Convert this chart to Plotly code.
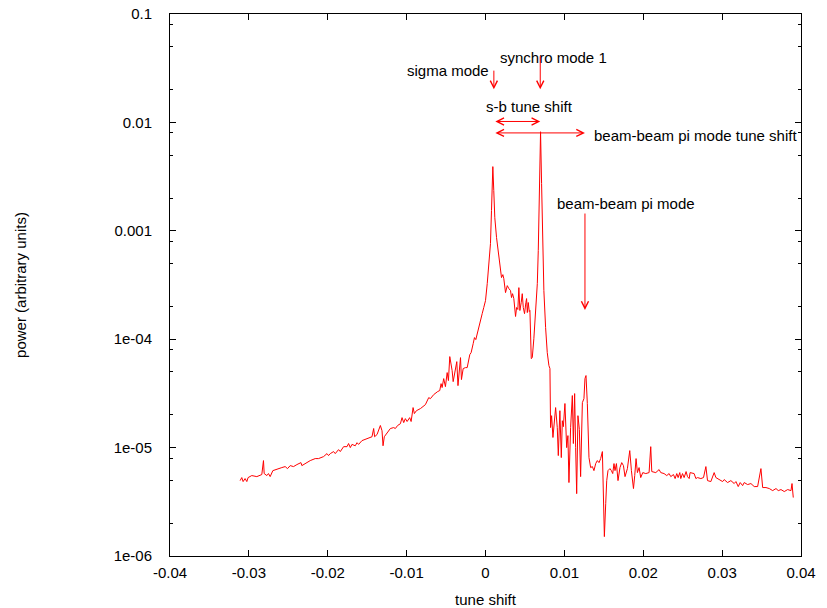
import numpy as np
import plotly.graph_objects as go

# ---- data (tune shift, power) ----
tune_shift = [
    -0.03111, -0.03090, -0.03073, -0.03048, -0.03026, -0.03010, -0.02963, -0.02899, -0.02836, -0.02815,
    -0.02806, -0.02772, -0.02752, -0.02730, -0.02696, -0.02645, -0.02582, -0.02540, -0.02510, -0.02476,
    -0.02434, -0.02391, -0.02340, -0.02328, -0.02286, -0.02222, -0.02159, -0.02117, -0.02053, -0.02010,
    -0.01990, -0.01968, -0.01926, -0.01905, -0.01863, -0.01841, -0.01799, -0.01756, -0.01736, -0.01714,
    -0.01693, -0.01651, -0.01629, -0.01609, -0.01566, -0.01524, -0.01482, -0.01439, -0.01418, -0.01406,
    -0.01375, -0.01333, -0.01312, -0.01299, -0.01283, -0.01248, -0.01206, -0.01164, -0.01143, -0.01114,
    -0.01079, -0.01058, -0.01037, -0.01016, -0.00994, -0.00961, -0.00943, -0.00918, -0.00902, -0.00876,
    -0.00825, -0.00762, -0.00720, -0.00698, -0.00657, -0.00606, -0.00580, -0.00563, -0.00550, -0.00530,
    -0.00508, -0.00486, -0.00470, -0.00453, -0.00423, -0.00410, -0.00381, -0.00364, -0.00349, -0.00317,
    -0.00305, -0.00283, -0.00254, -0.00232, -0.00199, -0.00182, -0.00156, -0.00140, -0.00123, -0.00098,
    -0.00072, -0.00042, -0.00022, 0.00000, 0.00022, 0.00042, 0.00063, 0.00076, 0.00093, 0.00105,
    0.00118, 0.00140, 0.00156, 0.00174, 0.00190, 0.00203, 0.00220, 0.00232, 0.00254, 0.00276,
    0.00296, 0.00317, 0.00330, 0.00343, 0.00359, 0.00381, 0.00394, 0.00410, 0.00423, 0.00436,
    0.00453, 0.00466, 0.00479, 0.00495, 0.00512, 0.00521, 0.00530, 0.00542, 0.00555, 0.00563,
    0.00580, 0.00593, 0.00613, 0.00635, 0.00657, 0.00669, 0.00686, 0.00698, 0.00711, 0.00724,
    0.00740, 0.00762, 0.00783, 0.00804, 0.00817, 0.00825, 0.00838, 0.00855, 0.00867, 0.00889,
    0.00910, 0.00923, 0.00943, 0.00961, 0.00974, 0.00987, 0.01007, 0.01029, 0.01045, 0.01058,
    0.01079, 0.01101, 0.01114, 0.01130, 0.01143, 0.01156, 0.01172, 0.01190, 0.01206, 0.01228,
    0.01248, 0.01261, 0.01274, 0.01291, 0.01312, 0.01333, 0.01355, 0.01375, 0.01397, 0.01418,
    0.01439, 0.01460, 0.01482, 0.01495, 0.01507, 0.01524, 0.01537, 0.01553, 0.01578, 0.01596,
    0.01613, 0.01629, 0.01642, 0.01660, 0.01680, 0.01705, 0.01727, 0.01749, 0.01769, 0.01799,
    0.01829, 0.01850, 0.01876, 0.01892, 0.01909, 0.01926, 0.01947, 0.01968, 0.01994, 0.02032,
    0.02074, 0.02095, 0.02108, 0.02159, 0.02201, 0.02222, 0.02264, 0.02298, 0.02328, 0.02349,
    0.02383, 0.02404, 0.02425, 0.02442, 0.02463, 0.02476, 0.02498, 0.02518, 0.02543, 0.02561,
    0.02582, 0.02594, 0.02645, 0.02667, 0.02688, 0.02730, 0.02764, 0.02794, 0.02815, 0.02857,
    0.02899, 0.02921, 0.02963, 0.03006, 0.03026, 0.03069, 0.03111, 0.03153, 0.03175, 0.03204,
    0.03229, 0.03260, 0.03280, 0.03323, 0.03365, 0.03407, 0.03450, 0.03492, 0.03514, 0.03556,
    0.03598, 0.03641, 0.03683, 0.03712, 0.03746, 0.03788, 0.03831, 0.03873, 0.03886, 0.03902,
]

power = [
    4.96e-6, 5.29e-6, 4.86e-6, 5.18e-6, 4.86e-6, 5.29e-6, 5.52e-6, 5.40e-6, 5.64e-6, 7.59e-6,
    5.76e-6, 5.52e-6, 5.76e-6, 5.40e-6, 6.13e-6, 6.27e-6, 6.54e-6, 6.68e-6, 6.40e-6, 6.82e-6,
    6.68e-6, 6.97e-6, 7.27e-6, 6.82e-6, 7.12e-6, 7.59e-6, 7.92e-6, 7.92e-6, 8.26e-6, 8.80e-6,
    8.44e-6, 8.80e-6, 9.19e-6, 8.80e-6, 9.58e-6, 9.19e-6, 1.02e-5, 1.02e-5, 1.09e-5, 1.00e-5,
    1.07e-5, 1.04e-5, 1.11e-5, 1.07e-5, 1.16e-5, 1.19e-5, 1.24e-5, 1.26e-5, 1.50e-5, 1.26e-5,
    1.32e-5, 1.60e-5, 1.43e-5, 1.04e-5, 1.26e-5, 1.38e-5, 1.50e-5, 1.53e-5, 1.50e-5, 1.60e-5,
    1.66e-5, 1.89e-5, 1.70e-5, 1.85e-5, 1.74e-5, 1.89e-5, 1.74e-5, 2.34e-5, 2.06e-5, 2.19e-5,
    2.29e-5, 2.49e-5, 2.89e-5, 2.83e-5, 3.08e-5, 3.29e-5, 3.36e-5, 3.89e-5, 3.58e-5, 4.33e-5,
    3.65e-5, 4.92e-5, 4.15e-5, 6.91e-5, 5.13e-5, 4.06e-5, 5.36e-5, 6.21e-5, 3.73e-5, 6.76e-5,
    4.24e-5, 5.36e-5, 5.47e-5, 5.47e-5, 7.21e-5, 7.52e-5, 9.11e-5, 1.035e-4, 9.92e-5, 1.20e-4,
    1.39e-4, 1.72e-4, 1.96e-4, 2.27e-4, 3.26e-4, 4.58e-4, 7.62e-4, 1.54e-3, 3.91e-3, 2.35e-3,
    1.32e-3, 8.66e-4, 7.00e-4, 5.31e-4, 4.77e-4, 3.70e-4, 3.94e-4, 3.62e-4, 2.69e-4, 3.12e-4,
    2.93e-4, 2.81e-4, 2.42e-4, 2.63e-4, 2.37e-4, 1.62e-4, 1.96e-4, 1.88e-4, 2.99e-4, 1.84e-4,
    2.18e-4, 2.63e-4, 1.96e-4, 1.72e-4, 2.18e-4, 2.37e-4, 1.76e-4, 2.18e-4, 1.80e-4, 1.84e-4,
    6.62e-5, 6.76e-5, 1.01e-4, 1.72e-4, 3.26e-4, 6.57e-4, 2.73e-3, 8.2e-3, 2.73e-3, 6.57e-4,
    2.81e-4, 1.28e-4, 7.52e-5, 5.71e-5, 5.36e-5, 1.53e-5, 1.97e-5, 1.24e-5, 1.66e-5, 2.34e-5,
    1.53e-5, 8.44e-6, 2.19e-5, 8.09e-6, 1.77e-5, 1.56e-5, 2.55e-5, 1.00e-5, 1.29e-5, 4.76e-6,
    1.53e-5, 3.02e-5, 1.09e-5, 3.15e-5, 1.00e-5, 3.76e-6, 1.97e-5, 1.47e-5, 5.40e-6, 2.60e-5,
    2.83e-5, 4.33e-5, 4.62e-5, 2.55e-5, 8.09e-6, 6.54e-6, 6.68e-6, 6.13e-6, 7.12e-6, 7.59e-6,
    7.27e-6, 7.92e-6, 9.19e-6, 4.28e-6, 1.51e-6, 3.04e-6, 4.96e-6, 6.13e-6, 6.40e-6, 6.13e-6,
    5.76e-6, 7.12e-6, 6.13e-6, 7.12e-6, 4.96e-6, 6.54e-6, 7.27e-6, 6.82e-6, 5.40e-6, 6.40e-6,
    9.38e-6, 6.13e-6, 4.19e-6, 5.52e-6, 7.92e-6, 5.88e-6, 6.54e-6, 5.29e-6, 5.88e-6, 5.76e-6,
    5.88e-6, 1.02e-5, 6.01e-6, 5.88e-6, 6.27e-6, 5.88e-6, 5.76e-6, 5.52e-6, 5.76e-6, 5.40e-6,
    5.64e-6, 5.18e-6, 5.76e-6, 5.29e-6, 5.88e-6, 5.18e-6, 5.76e-6, 5.29e-6, 6.01e-6, 5.40e-6,
    5.18e-6, 5.88e-6, 5.76e-6, 5.18e-6, 5.29e-6, 5.18e-6, 5.29e-6, 6.68e-6, 4.96e-6, 4.86e-6,
    5.88e-6, 5.29e-6, 5.07e-6, 4.86e-6, 5.07e-6, 4.76e-6, 4.96e-6, 4.66e-6, 4.86e-6, 4.37e-6,
    4.76e-6, 4.46e-6, 4.76e-6, 4.56e-6, 4.66e-6, 4.37e-6, 4.37e-6, 6.40e-6, 4.28e-6, 4.28e-6,
    4.19e-6, 4.01e-6, 4.19e-6, 4.01e-6, 4.10e-6, 3.93e-6, 4.10e-6, 4.01e-6, 4.66e-6, 3.46e-6,
]

x_tick_vals = [-0.04, -0.03, -0.02, -0.01, 0.0, 0.01, 0.02, 0.03, 0.04]
x_tick_text = ["-0.04", "-0.03", "-0.02", "-0.01", "0", "0.01", "0.02", "0.03", "0.04"]
y_tick_vals = [1e-6, 1e-5, 1e-4, 1e-3, 1e-2, 1e-1]
y_tick_text = ["1e-06", "1e-05", "1e-04", "0.001", "0.01", "0.1"]
y_minor_vals = [m * d for d in [1e-6, 1e-5, 1e-4, 1e-3, 1e-2] for m in (2, 5, 8)]

# labels: (text, x, y, anchor)
labels = [
    ("sigma mode", 0.0005, 0.030, "right"),
    ("synchro mode 1", 0.0019, 0.040, "left"),
    ("s-b tune shift", 0.0001, 0.014, "left"),
    ("beam-beam pi mode tune shift", 0.0138, 0.0075, "left"),
    ("beam-beam pi mode", 0.0091, 0.00177, "left"),
]
# arrows: (x_from, y_from, x_to, y_to, double)
arrows = [
    (0.00106, 0.031, 0.00106, 0.0202, False),
    (0.00694, 0.042, 0.00694, 0.0202, False),
    (0.00106, 0.0102, 0.00694, 0.0102, True),
    (0.00106, 0.0080, 0.01261, 0.0080, True),
    (0.01261, 0.00149, 0.01261, 0.000186, False),
]

RED = "#ff0000"
FONT = "Liberation Sans, Arial, sans-serif"

fig = go.Figure()
fig.add_trace(go.Scatter(x=tune_shift, y=power, mode="lines",
                         line=dict(color=RED, width=1), showlegend=False,
                         hoverinfo="skip"))

annotations = []
for text, x, y, anchor in labels:
    annotations.append(dict(text=text, x=x, y=np.log10(y), xref="x", yref="y",
                            xanchor=anchor, yanchor="middle", showarrow=False,
                            font=dict(family=FONT, size=15, color="#000000"),
                            borderpad=0, borderwidth=0))
for x0, y0, x1, y1, dbl in arrows:
    annotations.append(dict(text="", x=x1, y=np.log10(y1), ax=x0, ay=np.log10(y0),
                            xref="x", yref="y", axref="x", ayref="y",
                            showarrow=True, arrowcolor=RED, arrowwidth=1,
                            arrowhead=5, startarrowhead=5, arrowsize=1.4,
                            startarrowsize=1.4,
                            arrowside="end+start" if dbl else "end",
                            standoff=0, startstandoff=0))

fig.update_layout(
    width=827, height=608,
    margin=dict(l=170, r=26, t=14, b=52, autoexpand=False),
    paper_bgcolor="white", plot_bgcolor="white",
    font=dict(family=FONT, size=15, color="#000000"),
    annotations=annotations,
)
fig.update_xaxes(
    range=[-0.04, 0.04], tickmode="array", tickvals=x_tick_vals, ticktext=x_tick_text,
    ticks="inside", ticklen=6, tickwidth=1, tickcolor="black",
    showline=True, linecolor="black", linewidth=1, mirror="allticks",
    showgrid=False, zeroline=False, ticklabelstandoff=3, automargin=False,
    ticklabeloverflow="allow",
    title=dict(text="tune shift", standoff=15, font=dict(size=15)),
)
fig.update_yaxes(
    type="log", range=[-6, -1], tickmode="array", tickvals=y_tick_vals, ticktext=y_tick_text,
    ticks="inside", ticklen=6, tickwidth=1, tickcolor="black",
    minor=dict(tickmode="array", tickvals=y_minor_vals, ticks="inside", ticklen=3,
               tickcolor="black", showgrid=False),
    showline=True, linecolor="black", linewidth=1, mirror="allticks",
    showgrid=False, zeroline=False, ticklabelstandoff=14, automargin=False,
    ticklabeloverflow="allow",
    title=dict(text="power (arbitrary units)", standoff=83, font=dict(size=15)),
)

# remove the browser's default 8px body margin so the figure sits at the page origin
fig.write_html("out.html", config={"displayModeBar": False},
               post_script="document.body.style.margin='0';document.body.style.overflow='hidden';")
